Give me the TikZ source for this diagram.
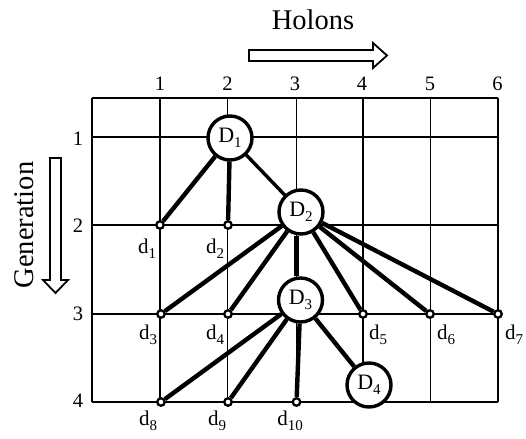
\documentclass[tikz,border=0pt]{standalone}
\usepackage{fontspec}
\setmainfont{Liberation Serif}
\newcommand{\sbs}[1]{\raisebox{-5pt}{\fontsize{15}{15}\selectfont #1}}
\begin{document}
\begin{tikzpicture}[x=1pt,y=-1pt,
  gridline/.style={line width=1.5pt},
  big/.style={circle,draw,line width=3.4pt,fill=white,minimum size=44pt,inner sep=0pt,font=\fontsize{22}{22}\selectfont},
  small/.style={circle,draw,line width=2.3pt,fill=white,minimum size=7.5pt,inner sep=0pt},
  edge/.style={line width=4.4pt},
  lab/.style={anchor=base,inner sep=0pt,font=\fontsize{21}{21}\selectfont},
  num/.style={inner sep=0pt,font=\fontsize{20.5}{20.5}\selectfont},
  ttl/.style={font=\fontsize{28.5}{28.5}\selectfont,inner sep=0pt,anchor=base},
  hollow/.style={draw,line width=1.8pt,fill=white,line join=miter}]
\useasboundingbox (0,0) rectangle (526,438);
% grid
\foreach \yy in {98,137,225,314,402} \draw[gridline] (92,\yy) -- (498,\yy);
\foreach \xx in {92,160,227.6,296.5,362.8,430.4,498} \draw[gridline] (\xx,98) -- (\xx,402);
\coordinate (k3) at (296.5,98);
% titles and arrows
\node[ttl] (hol) at (313,30) {Holons};
\node[ttl,rotate=90] (gen) at (33,225) {Generation};
\draw[hollow] (249,50) -- (373,50) -- (373,43) -- (387,55.5) -- (373,68) -- (373,61) -- (249,61) -- cycle;
\draw[hollow] (50,158) -- (50,280) -- (43,280) -- (55.5,293) -- (68,280) -- (61,280) -- (61,158) -- cycle;
% axis numbers
\node[num] (c1) at (160,84) {1};
\node[num] (c2) at (227.6,84) {2};
\node[num] (c3) at (295,84) {3};
\node[num] (c4) at (362,84) {4};
\node[num] (c5) at (430,84) {5};
\node[num] (c6) at (497.5,84) {6};
\node[num] (r1) at (78,139) {1};
\node[num] (r2) at (78,226) {2};
\node[num] (r3) at (78,314) {3};
\node[num] (r4) at (78,401) {4};
% big nodes
\node[big] (D1) at (230,138) {D\sbs{1}};
\node[big] (D2) at (301,212) {D\sbs{2}};
\node[big] (D3) at (300.5,300) {D\sbs{3}};
\node[big] (D4) at (369,385) {D\sbs{4}};
% small nodes
\node[small] (d1) at (160,225) {};
\node[small] (d2) at (228,225) {};
\node[small] (d3) at (161,314) {};
\node[small] (d4) at (228,314) {};
\node[small] (d5) at (363,314) {};
\node[small] (d6) at (430,314) {};
\node[small] (d7) at (498,314) {};
\node[small] (d8) at (161,402) {};
\node[small] (d9) at (228,402) {};
\node[small] (d10) at (296.5,402) {};
% labels
\node[lab] (l1) at (147,253) {d\sbs{1}};
\node[lab] (l2) at (215,253) {d\sbs{2}};
\node[lab] (l3) at (148,339) {d\sbs{3}};
\node[lab] (l4) at (215,339) {d\sbs{4}};
\node[lab] (l5) at (378,339) {d\sbs{5}};
\node[lab] (l6) at (446,339) {d\sbs{6}};
\node[lab] (l7) at (514,339) {d\sbs{7}};
\node[lab] (l8) at (148,425) {d\sbs{8}};
\node[lab] (l9) at (217,425) {d\sbs{9}};
\node[lab] (l10) at (290,425) {d\sbs{10}};
% edges
\draw[edge] (D1) -- (d1);
\draw[edge] (D1) -- (d2);
\draw[line width=3.4pt] (D1) -- (D2);
\foreach \t in {d3,d4,d5,d6,d7} \draw[edge] (D2) -- (\t);
\draw[edge] (k3 |- D2.south) -- (k3 |- D3.north);
\foreach \t in {d8,d9,d10,D4} \draw[edge] (D3) -- (\t);
\end{tikzpicture}
\end{document}
